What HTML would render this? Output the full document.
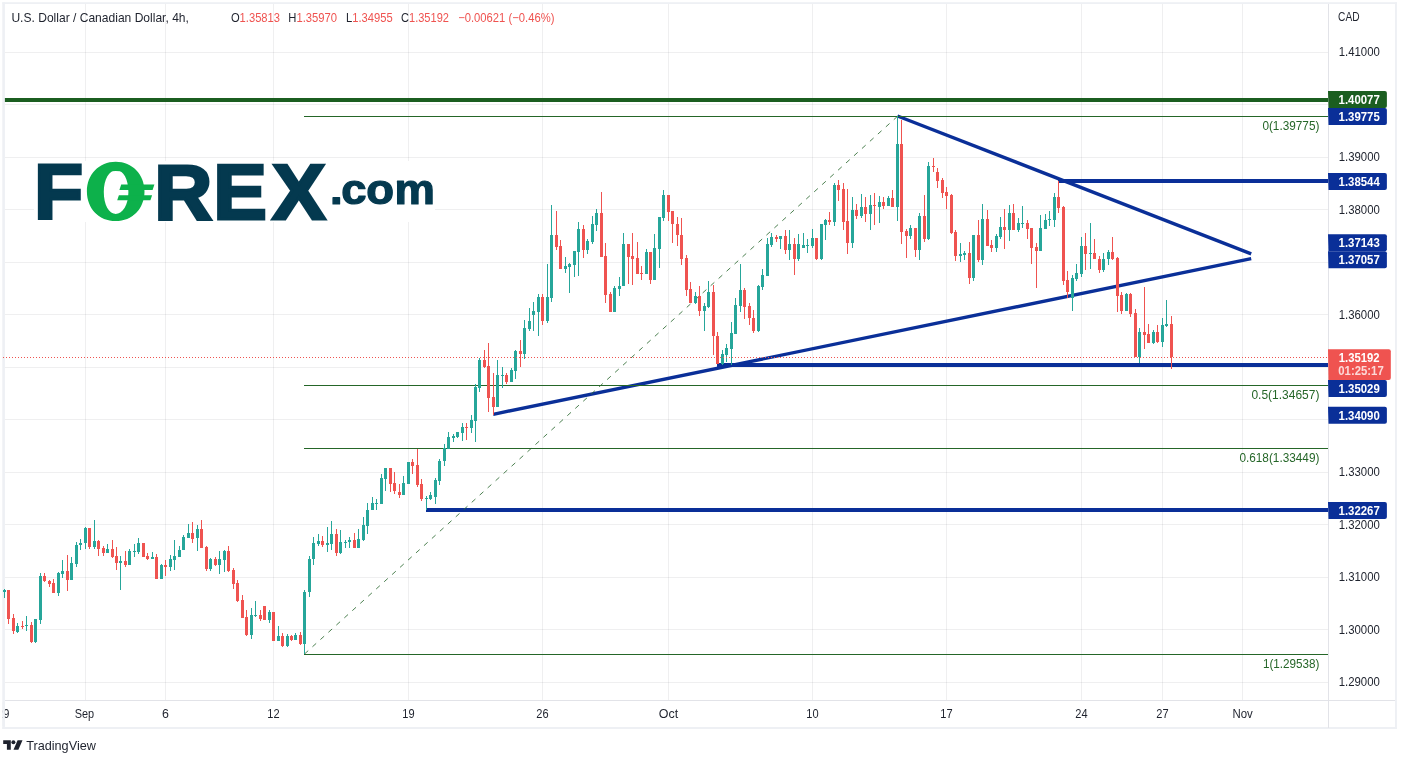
<!DOCTYPE html>
<html lang="en"><head><meta charset="utf-8"><title>USDCAD 4h chart</title>
<style>html,body{margin:0;padding:0;background:#fff;}body{width:1406px;height:763px;overflow:hidden;}svg{display:block;}text{font-family:"Liberation Sans", Arial, sans-serif;}</style></head><body>
<svg width="1406" height="763" viewBox="0 0 1406 763">
<rect x="0" y="0" width="1406" height="763" fill="#ffffff"/>
<g shape-rendering="crispEdges" fill="#2a2e39" fill-opacity="0.075">
<rect x="85" y="4" width="1" height="696"/>
<rect x="165" y="4" width="1" height="696"/>
<rect x="273" y="4" width="1" height="696"/>
<rect x="408" y="4" width="1" height="696"/>
<rect x="542" y="4" width="1" height="696"/>
<rect x="668" y="4" width="1" height="696"/>
<rect x="812" y="4" width="1" height="696"/>
<rect x="946" y="4" width="1" height="696"/>
<rect x="1081" y="4" width="1" height="696"/>
<rect x="1162" y="4" width="1" height="696"/>
<rect x="1242" y="4" width="1" height="696"/>
<rect x="5" y="52" width="1323" height="1"/>
<rect x="5" y="104" width="1323" height="1"/>
<rect x="5" y="157" width="1323" height="1"/>
<rect x="5" y="209" width="1323" height="1"/>
<rect x="5" y="262" width="1323" height="1"/>
<rect x="5" y="314" width="1323" height="1"/>
<rect x="5" y="367" width="1323" height="1"/>
<rect x="5" y="419" width="1323" height="1"/>
<rect x="5" y="472" width="1323" height="1"/>
<rect x="5" y="524" width="1323" height="1"/>
<rect x="5" y="577" width="1323" height="1"/>
<rect x="5" y="629" width="1323" height="1"/>
<rect x="5" y="682" width="1323" height="1"/>
</g>
<rect x="34" y="161" width="401" height="61" fill="#ffffff"/>
<g transform="translate(0,218.90) scale(1.030,1)">
<text x="32.97 82.07 149.74 207.08 263.98" y="0" font-weight="700" font-size="78.1px" fill="#04394f" stroke="#04394f" stroke-width="3.0" vector-effect="non-scaling-stroke">F<tspan font-weight="400" fill="#0db14b" stroke="none">O</tspan>REX</text>
</g>
<path fill="#0db14b" fill-rule="evenodd" d="M115.7 161.8c16.6 0 28.8 12.6 28.8 29.7s-12.2 29.6-28.8 29.6s-28.8-12.5-28.8-29.6s12.200-29.7 28.8-29.7z M116.4 170c-7.2 0-12.6 9.400-12.6 22s5.000 22 12 22s12.600-9.400 12.600-22s-5.000-22-12-22z"/>
<path fill="#0db14b" d="M121.200 184.600h33.200l-1.800 5.300h-33.200z M118.900 195.300h33.200l-1.700 4.900h-33.200z"/>
<g transform="translate(0,204.30) scale(1.090,1)">
<text x="302.79 313.08 335.91 362.04" y="0" font-weight="700" font-size="41.7px" fill="#04394f" stroke="#04394f" stroke-width="1.3" stroke-linejoin="round" vector-effect="non-scaling-stroke">.com</text>
</g>
<rect x="3" y="98" width="1325" height="4" fill="#1b5e20" shape-rendering="crispEdges"/>
<g stroke="#0a2f98" stroke-width="3.4" stroke-linecap="butt">
<line x1="897.5" y1="116" x2="1251.2" y2="253.8"/>
<line x1="493.2" y1="414.3" x2="1251.2" y2="258.7"/>
</g>
<g fill="#0a2f98" shape-rendering="crispEdges">
<rect x="1058" y="179" width="270" height="4"/>
<rect x="717" y="363" width="611" height="4"/>
<rect x="426" y="508" width="902" height="4"/>
</g>
<g shape-rendering="crispEdges" fill="#256628">
<rect x="304" y="116" width="1024" height="1"/>
<rect x="304" y="385" width="1024" height="1"/>
<rect x="304" y="448" width="1024" height="1"/>
<rect x="304" y="654" width="1024" height="1"/>
</g>
<line x1="304.5" y1="654" x2="897.5" y2="116.3" stroke="#2e6b32" stroke-opacity="0.85" stroke-width="1" stroke-dasharray="5 5.75"/>
<g fill="#eef0f4"><rect x="2.3" y="2.2" width="1394.6" height="1.8"/><rect x="2.3" y="727" width="1394.6" height="2"/><rect x="2.3" y="2.2" width="2.6" height="726.8"/><rect x="1395" y="2.2" width="1.9" height="726.8"/></g>
<g shape-rendering="crispEdges">
<rect x="4" y="589" width="1" height="9" fill="#26a69a"/>
<rect x="3" y="590" width="3" height="2" fill="#26a69a"/>
<rect x="8" y="590" width="1" height="34" fill="#ef5350"/>
<rect x="7" y="590" width="3" height="29" fill="#ef5350"/>
<rect x="13" y="614" width="1" height="20" fill="#ef5350"/>
<rect x="12" y="618" width="3" height="13" fill="#ef5350"/>
<rect x="17" y="623" width="1" height="10" fill="#26a69a"/>
<rect x="16" y="626" width="3" height="6" fill="#26a69a"/>
<rect x="22" y="621" width="1" height="8" fill="#ef5350"/>
<rect x="21" y="626" width="3" height="1" fill="#ef5350"/>
<rect x="26" y="616" width="1" height="15" fill="#26a69a"/>
<rect x="25" y="625" width="3" height="1" fill="#26a69a"/>
<rect x="31" y="622" width="1" height="21" fill="#ef5350"/>
<rect x="30" y="625" width="3" height="17" fill="#ef5350"/>
<rect x="35" y="619" width="1" height="24" fill="#26a69a"/>
<rect x="34" y="619" width="3" height="23" fill="#26a69a"/>
<rect x="40" y="573" width="1" height="51" fill="#26a69a"/>
<rect x="39" y="576" width="3" height="44" fill="#26a69a"/>
<rect x="44" y="573" width="1" height="9" fill="#ef5350"/>
<rect x="43" y="576" width="3" height="5" fill="#ef5350"/>
<rect x="49" y="580" width="1" height="7" fill="#ef5350"/>
<rect x="48" y="581" width="3" height="3" fill="#ef5350"/>
<rect x="53" y="579" width="1" height="14" fill="#ef5350"/>
<rect x="52" y="583" width="3" height="10" fill="#ef5350"/>
<rect x="58" y="572" width="1" height="24" fill="#26a69a"/>
<rect x="57" y="573" width="3" height="20" fill="#26a69a"/>
<rect x="62" y="560" width="1" height="18" fill="#26a69a"/>
<rect x="61" y="571" width="3" height="3" fill="#26a69a"/>
<rect x="67" y="555" width="1" height="36" fill="#ef5350"/>
<rect x="66" y="571" width="3" height="9" fill="#ef5350"/>
<rect x="71" y="557" width="1" height="23" fill="#26a69a"/>
<rect x="70" y="563" width="3" height="17" fill="#26a69a"/>
<rect x="76" y="542" width="1" height="25" fill="#26a69a"/>
<rect x="75" y="545" width="3" height="19" fill="#26a69a"/>
<rect x="80" y="539" width="1" height="11" fill="#26a69a"/>
<rect x="79" y="543" width="3" height="2" fill="#26a69a"/>
<rect x="85" y="527" width="1" height="22" fill="#26a69a"/>
<rect x="84" y="528" width="3" height="15" fill="#26a69a"/>
<rect x="89" y="528" width="1" height="21" fill="#ef5350"/>
<rect x="88" y="528" width="3" height="19" fill="#ef5350"/>
<rect x="94" y="520" width="1" height="29" fill="#26a69a"/>
<rect x="93" y="541" width="3" height="6" fill="#26a69a"/>
<rect x="98" y="540" width="1" height="16" fill="#ef5350"/>
<rect x="97" y="541" width="3" height="8" fill="#ef5350"/>
<rect x="103" y="546" width="1" height="10" fill="#ef5350"/>
<rect x="102" y="548" width="3" height="5" fill="#ef5350"/>
<rect x="107" y="544" width="1" height="9" fill="#26a69a"/>
<rect x="106" y="549" width="3" height="4" fill="#26a69a"/>
<rect x="112" y="540" width="1" height="18" fill="#ef5350"/>
<rect x="111" y="549" width="3" height="8" fill="#ef5350"/>
<rect x="116" y="547" width="1" height="23" fill="#ef5350"/>
<rect x="115" y="556" width="3" height="7" fill="#ef5350"/>
<rect x="120" y="556" width="1" height="34" fill="#26a69a"/>
<rect x="119" y="561" width="3" height="2" fill="#26a69a"/>
<rect x="125" y="551" width="1" height="16" fill="#ef5350"/>
<rect x="124" y="561" width="3" height="4" fill="#ef5350"/>
<rect x="129" y="549" width="1" height="16" fill="#26a69a"/>
<rect x="128" y="551" width="3" height="14" fill="#26a69a"/>
<rect x="134" y="544" width="1" height="13" fill="#26a69a"/>
<rect x="133" y="551" width="3" height="1" fill="#26a69a"/>
<rect x="138" y="538" width="1" height="16" fill="#26a69a"/>
<rect x="137" y="543" width="3" height="9" fill="#26a69a"/>
<rect x="143" y="543" width="1" height="14" fill="#ef5350"/>
<rect x="142" y="543" width="3" height="14" fill="#ef5350"/>
<rect x="147" y="553" width="1" height="7" fill="#ef5350"/>
<rect x="146" y="556" width="3" height="3" fill="#ef5350"/>
<rect x="152" y="552" width="1" height="7" fill="#26a69a"/>
<rect x="151" y="557" width="3" height="2" fill="#26a69a"/>
<rect x="156" y="554" width="1" height="25" fill="#ef5350"/>
<rect x="155" y="557" width="3" height="22" fill="#ef5350"/>
<rect x="161" y="564" width="1" height="15" fill="#26a69a"/>
<rect x="160" y="565" width="3" height="14" fill="#26a69a"/>
<rect x="165" y="560" width="1" height="16" fill="#ef5350"/>
<rect x="164" y="565" width="3" height="2" fill="#ef5350"/>
<rect x="170" y="555" width="1" height="16" fill="#26a69a"/>
<rect x="169" y="559" width="3" height="8" fill="#26a69a"/>
<rect x="174" y="540" width="1" height="30" fill="#26a69a"/>
<rect x="173" y="556" width="3" height="4" fill="#26a69a"/>
<rect x="179" y="546" width="1" height="11" fill="#26a69a"/>
<rect x="178" y="550" width="3" height="7" fill="#26a69a"/>
<rect x="183" y="535" width="1" height="15" fill="#26a69a"/>
<rect x="182" y="537" width="3" height="13" fill="#26a69a"/>
<rect x="188" y="524" width="1" height="14" fill="#26a69a"/>
<rect x="187" y="533" width="3" height="5" fill="#26a69a"/>
<rect x="192" y="522" width="1" height="21" fill="#ef5350"/>
<rect x="191" y="533" width="3" height="6" fill="#ef5350"/>
<rect x="197" y="525" width="1" height="26" fill="#26a69a"/>
<rect x="196" y="529" width="3" height="9" fill="#26a69a"/>
<rect x="201" y="520" width="1" height="28" fill="#ef5350"/>
<rect x="200" y="529" width="3" height="19" fill="#ef5350"/>
<rect x="206" y="546" width="1" height="25" fill="#ef5350"/>
<rect x="205" y="547" width="3" height="22" fill="#ef5350"/>
<rect x="210" y="558" width="1" height="13" fill="#26a69a"/>
<rect x="209" y="559" width="3" height="10" fill="#26a69a"/>
<rect x="215" y="557" width="1" height="9" fill="#ef5350"/>
<rect x="214" y="559" width="3" height="6" fill="#ef5350"/>
<rect x="219" y="551" width="1" height="23" fill="#26a69a"/>
<rect x="218" y="559" width="3" height="6" fill="#26a69a"/>
<rect x="224" y="550" width="1" height="22" fill="#26a69a"/>
<rect x="223" y="551" width="3" height="9" fill="#26a69a"/>
<rect x="228" y="546" width="1" height="26" fill="#ef5350"/>
<rect x="227" y="551" width="3" height="20" fill="#ef5350"/>
<rect x="233" y="568" width="1" height="21" fill="#ef5350"/>
<rect x="232" y="570" width="3" height="14" fill="#ef5350"/>
<rect x="237" y="580" width="1" height="22" fill="#ef5350"/>
<rect x="236" y="583" width="3" height="18" fill="#ef5350"/>
<rect x="242" y="595" width="1" height="23" fill="#ef5350"/>
<rect x="241" y="600" width="3" height="18" fill="#ef5350"/>
<rect x="246" y="610" width="1" height="26" fill="#ef5350"/>
<rect x="245" y="617" width="3" height="18" fill="#ef5350"/>
<rect x="251" y="608" width="1" height="31" fill="#26a69a"/>
<rect x="250" y="615" width="3" height="20" fill="#26a69a"/>
<rect x="255" y="601" width="1" height="16" fill="#26a69a"/>
<rect x="254" y="615" width="3" height="1" fill="#26a69a"/>
<rect x="260" y="610" width="1" height="11" fill="#ef5350"/>
<rect x="259" y="615" width="3" height="4" fill="#ef5350"/>
<rect x="264" y="606" width="1" height="14" fill="#ef5350"/>
<rect x="263" y="606" width="3" height="14" fill="#ef5350"/>
<rect x="269" y="610" width="1" height="13" fill="#26a69a"/>
<rect x="268" y="612" width="3" height="8" fill="#26a69a"/>
<rect x="273" y="612" width="1" height="29" fill="#ef5350"/>
<rect x="272" y="612" width="3" height="29" fill="#ef5350"/>
<rect x="278" y="626" width="1" height="15" fill="#26a69a"/>
<rect x="277" y="636" width="3" height="5" fill="#26a69a"/>
<rect x="282" y="633" width="1" height="14" fill="#ef5350"/>
<rect x="281" y="636" width="3" height="10" fill="#ef5350"/>
<rect x="287" y="634" width="1" height="13" fill="#26a69a"/>
<rect x="286" y="636" width="3" height="10" fill="#26a69a"/>
<rect x="291" y="635" width="1" height="6" fill="#ef5350"/>
<rect x="290" y="636" width="3" height="4" fill="#ef5350"/>
<rect x="295" y="633" width="1" height="7" fill="#26a69a"/>
<rect x="294" y="635" width="3" height="5" fill="#26a69a"/>
<rect x="300" y="632" width="1" height="13" fill="#ef5350"/>
<rect x="299" y="635" width="3" height="9" fill="#ef5350"/>
<rect x="304" y="590" width="1" height="64" fill="#26a69a"/>
<rect x="303" y="592" width="3" height="52" fill="#26a69a"/>
<rect x="309" y="556" width="1" height="41" fill="#26a69a"/>
<rect x="308" y="559" width="3" height="33" fill="#26a69a"/>
<rect x="313" y="537" width="1" height="28" fill="#26a69a"/>
<rect x="312" y="543" width="3" height="16" fill="#26a69a"/>
<rect x="318" y="534" width="1" height="12" fill="#26a69a"/>
<rect x="317" y="541" width="3" height="3" fill="#26a69a"/>
<rect x="322" y="536" width="1" height="11" fill="#ef5350"/>
<rect x="321" y="541" width="3" height="4" fill="#ef5350"/>
<rect x="327" y="527" width="1" height="25" fill="#26a69a"/>
<rect x="326" y="543" width="3" height="2" fill="#26a69a"/>
<rect x="331" y="521" width="1" height="29" fill="#26a69a"/>
<rect x="330" y="534" width="3" height="10" fill="#26a69a"/>
<rect x="336" y="529" width="1" height="27" fill="#ef5350"/>
<rect x="335" y="534" width="3" height="19" fill="#ef5350"/>
<rect x="340" y="530" width="1" height="24" fill="#26a69a"/>
<rect x="339" y="542" width="3" height="11" fill="#26a69a"/>
<rect x="345" y="540" width="1" height="8" fill="#26a69a"/>
<rect x="344" y="542" width="3" height="1" fill="#26a69a"/>
<rect x="349" y="537" width="1" height="11" fill="#26a69a"/>
<rect x="348" y="540" width="3" height="2" fill="#26a69a"/>
<rect x="354" y="533" width="1" height="15" fill="#ef5350"/>
<rect x="353" y="540" width="3" height="8" fill="#ef5350"/>
<rect x="358" y="529" width="1" height="19" fill="#26a69a"/>
<rect x="357" y="539" width="3" height="9" fill="#26a69a"/>
<rect x="363" y="517" width="1" height="24" fill="#26a69a"/>
<rect x="362" y="525" width="3" height="15" fill="#26a69a"/>
<rect x="367" y="503" width="1" height="31" fill="#26a69a"/>
<rect x="366" y="510" width="3" height="16" fill="#26a69a"/>
<rect x="372" y="497" width="1" height="13" fill="#26a69a"/>
<rect x="371" y="503" width="3" height="7" fill="#26a69a"/>
<rect x="376" y="499" width="1" height="11" fill="#26a69a"/>
<rect x="375" y="503" width="3" height="1" fill="#26a69a"/>
<rect x="381" y="474" width="1" height="30" fill="#26a69a"/>
<rect x="380" y="478" width="3" height="26" fill="#26a69a"/>
<rect x="385" y="468" width="1" height="23" fill="#26a69a"/>
<rect x="384" y="468" width="3" height="11" fill="#26a69a"/>
<rect x="390" y="468" width="1" height="24" fill="#ef5350"/>
<rect x="389" y="468" width="3" height="16" fill="#ef5350"/>
<rect x="394" y="472" width="1" height="22" fill="#ef5350"/>
<rect x="393" y="483" width="3" height="8" fill="#ef5350"/>
<rect x="399" y="484" width="1" height="14" fill="#ef5350"/>
<rect x="398" y="492" width="3" height="3" fill="#ef5350"/>
<rect x="403" y="476" width="1" height="19" fill="#26a69a"/>
<rect x="402" y="483" width="3" height="12" fill="#26a69a"/>
<rect x="408" y="462" width="1" height="22" fill="#26a69a"/>
<rect x="407" y="462" width="3" height="22" fill="#26a69a"/>
<rect x="412" y="459" width="1" height="15" fill="#ef5350"/>
<rect x="411" y="462" width="3" height="4" fill="#ef5350"/>
<rect x="417" y="449" width="1" height="38" fill="#ef5350"/>
<rect x="416" y="465" width="3" height="20" fill="#ef5350"/>
<rect x="421" y="479" width="1" height="22" fill="#ef5350"/>
<rect x="420" y="484" width="3" height="15" fill="#ef5350"/>
<rect x="426" y="496" width="1" height="14" fill="#26a69a"/>
<rect x="425" y="498" width="3" height="1" fill="#26a69a"/>
<rect x="430" y="492" width="1" height="8" fill="#26a69a"/>
<rect x="429" y="495" width="3" height="4" fill="#26a69a"/>
<rect x="435" y="478" width="1" height="26" fill="#26a69a"/>
<rect x="434" y="480" width="3" height="17" fill="#26a69a"/>
<rect x="439" y="459" width="1" height="26" fill="#26a69a"/>
<rect x="438" y="461" width="3" height="20" fill="#26a69a"/>
<rect x="444" y="444" width="1" height="22" fill="#26a69a"/>
<rect x="443" y="448" width="3" height="13" fill="#26a69a"/>
<rect x="448" y="432" width="1" height="17" fill="#26a69a"/>
<rect x="447" y="437" width="3" height="12" fill="#26a69a"/>
<rect x="453" y="434" width="1" height="8" fill="#26a69a"/>
<rect x="452" y="436" width="3" height="2" fill="#26a69a"/>
<rect x="457" y="432" width="1" height="6" fill="#26a69a"/>
<rect x="456" y="432" width="3" height="5" fill="#26a69a"/>
<rect x="462" y="423" width="1" height="18" fill="#26a69a"/>
<rect x="461" y="427" width="3" height="6" fill="#26a69a"/>
<rect x="466" y="423" width="1" height="17" fill="#ef5350"/>
<rect x="465" y="427" width="3" height="1" fill="#ef5350"/>
<rect x="471" y="415" width="1" height="18" fill="#26a69a"/>
<rect x="470" y="420" width="3" height="8" fill="#26a69a"/>
<rect x="475" y="384" width="1" height="58" fill="#26a69a"/>
<rect x="474" y="387" width="3" height="34" fill="#26a69a"/>
<rect x="479" y="358" width="1" height="34" fill="#26a69a"/>
<rect x="478" y="360" width="3" height="28" fill="#26a69a"/>
<rect x="484" y="350" width="1" height="18" fill="#ef5350"/>
<rect x="483" y="360" width="3" height="7" fill="#ef5350"/>
<rect x="488" y="343" width="1" height="69" fill="#ef5350"/>
<rect x="487" y="366" width="3" height="32" fill="#ef5350"/>
<rect x="493" y="373" width="1" height="42" fill="#ef5350"/>
<rect x="492" y="397" width="3" height="10" fill="#ef5350"/>
<rect x="497" y="360" width="1" height="47" fill="#26a69a"/>
<rect x="496" y="375" width="3" height="32" fill="#26a69a"/>
<rect x="502" y="367" width="1" height="21" fill="#26a69a"/>
<rect x="501" y="375" width="3" height="1" fill="#26a69a"/>
<rect x="506" y="373" width="1" height="11" fill="#ef5350"/>
<rect x="505" y="375" width="3" height="7" fill="#ef5350"/>
<rect x="511" y="368" width="1" height="14" fill="#26a69a"/>
<rect x="510" y="370" width="3" height="12" fill="#26a69a"/>
<rect x="515" y="350" width="1" height="29" fill="#26a69a"/>
<rect x="514" y="351" width="3" height="20" fill="#26a69a"/>
<rect x="520" y="340" width="1" height="27" fill="#ef5350"/>
<rect x="519" y="351" width="3" height="3" fill="#ef5350"/>
<rect x="524" y="320" width="1" height="39" fill="#26a69a"/>
<rect x="523" y="328" width="3" height="26" fill="#26a69a"/>
<rect x="529" y="308" width="1" height="23" fill="#26a69a"/>
<rect x="528" y="321" width="3" height="8" fill="#26a69a"/>
<rect x="533" y="302" width="1" height="29" fill="#26a69a"/>
<rect x="532" y="311" width="3" height="4" fill="#26a69a"/>
<rect x="538" y="294" width="1" height="42" fill="#26a69a"/>
<rect x="537" y="297" width="3" height="15" fill="#26a69a"/>
<rect x="542" y="294" width="1" height="31" fill="#ef5350"/>
<rect x="541" y="297" width="3" height="24" fill="#ef5350"/>
<rect x="547" y="264" width="1" height="59" fill="#26a69a"/>
<rect x="546" y="297" width="3" height="24" fill="#26a69a"/>
<rect x="551" y="205" width="1" height="97" fill="#26a69a"/>
<rect x="550" y="235" width="3" height="63" fill="#26a69a"/>
<rect x="556" y="211" width="1" height="39" fill="#ef5350"/>
<rect x="555" y="235" width="3" height="12" fill="#ef5350"/>
<rect x="560" y="240" width="1" height="29" fill="#ef5350"/>
<rect x="559" y="246" width="3" height="23" fill="#ef5350"/>
<rect x="565" y="257" width="1" height="16" fill="#26a69a"/>
<rect x="564" y="266" width="3" height="3" fill="#26a69a"/>
<rect x="569" y="263" width="1" height="30" fill="#26a69a"/>
<rect x="568" y="264" width="3" height="3" fill="#26a69a"/>
<rect x="574" y="251" width="1" height="26" fill="#26a69a"/>
<rect x="573" y="251" width="3" height="14" fill="#26a69a"/>
<rect x="578" y="222" width="1" height="54" fill="#26a69a"/>
<rect x="577" y="229" width="3" height="23" fill="#26a69a"/>
<rect x="583" y="225" width="1" height="33" fill="#ef5350"/>
<rect x="582" y="229" width="3" height="21" fill="#ef5350"/>
<rect x="587" y="239" width="1" height="15" fill="#26a69a"/>
<rect x="586" y="241" width="3" height="9" fill="#26a69a"/>
<rect x="592" y="216" width="1" height="28" fill="#26a69a"/>
<rect x="591" y="224" width="3" height="18" fill="#26a69a"/>
<rect x="596" y="209" width="1" height="22" fill="#26a69a"/>
<rect x="595" y="213" width="3" height="12" fill="#26a69a"/>
<rect x="601" y="192" width="1" height="65" fill="#ef5350"/>
<rect x="600" y="213" width="3" height="44" fill="#ef5350"/>
<rect x="605" y="243" width="1" height="60" fill="#ef5350"/>
<rect x="604" y="256" width="3" height="39" fill="#ef5350"/>
<rect x="610" y="292" width="1" height="20" fill="#ef5350"/>
<rect x="609" y="294" width="3" height="18" fill="#ef5350"/>
<rect x="614" y="286" width="1" height="26" fill="#26a69a"/>
<rect x="613" y="288" width="3" height="24" fill="#26a69a"/>
<rect x="619" y="277" width="1" height="19" fill="#26a69a"/>
<rect x="618" y="286" width="3" height="3" fill="#26a69a"/>
<rect x="623" y="233" width="1" height="53" fill="#26a69a"/>
<rect x="622" y="244" width="3" height="42" fill="#26a69a"/>
<rect x="628" y="244" width="1" height="40" fill="#ef5350"/>
<rect x="627" y="244" width="3" height="13" fill="#ef5350"/>
<rect x="632" y="233" width="1" height="52" fill="#ef5350"/>
<rect x="631" y="256" width="3" height="3" fill="#ef5350"/>
<rect x="637" y="242" width="1" height="32" fill="#ef5350"/>
<rect x="636" y="258" width="3" height="16" fill="#ef5350"/>
<rect x="641" y="266" width="1" height="14" fill="#ef5350"/>
<rect x="640" y="273" width="3" height="1" fill="#ef5350"/>
<rect x="646" y="249" width="1" height="25" fill="#26a69a"/>
<rect x="645" y="252" width="3" height="22" fill="#26a69a"/>
<rect x="650" y="252" width="1" height="32" fill="#ef5350"/>
<rect x="649" y="252" width="3" height="28" fill="#ef5350"/>
<rect x="654" y="234" width="1" height="46" fill="#26a69a"/>
<rect x="653" y="248" width="3" height="32" fill="#26a69a"/>
<rect x="659" y="217" width="1" height="51" fill="#26a69a"/>
<rect x="658" y="217" width="3" height="32" fill="#26a69a"/>
<rect x="663" y="190" width="1" height="31" fill="#26a69a"/>
<rect x="662" y="195" width="3" height="23" fill="#26a69a"/>
<rect x="668" y="195" width="1" height="26" fill="#ef5350"/>
<rect x="667" y="195" width="3" height="17" fill="#ef5350"/>
<rect x="672" y="211" width="1" height="32" fill="#ef5350"/>
<rect x="671" y="211" width="3" height="13" fill="#ef5350"/>
<rect x="677" y="217" width="1" height="29" fill="#ef5350"/>
<rect x="676" y="224" width="3" height="11" fill="#ef5350"/>
<rect x="681" y="218" width="1" height="47" fill="#ef5350"/>
<rect x="680" y="235" width="3" height="24" fill="#ef5350"/>
<rect x="686" y="255" width="1" height="41" fill="#ef5350"/>
<rect x="685" y="258" width="3" height="32" fill="#ef5350"/>
<rect x="690" y="282" width="1" height="21" fill="#ef5350"/>
<rect x="689" y="289" width="3" height="14" fill="#ef5350"/>
<rect x="695" y="292" width="1" height="12" fill="#26a69a"/>
<rect x="694" y="296" width="3" height="7" fill="#26a69a"/>
<rect x="699" y="286" width="1" height="30" fill="#ef5350"/>
<rect x="698" y="296" width="3" height="15" fill="#ef5350"/>
<rect x="704" y="303" width="1" height="28" fill="#26a69a"/>
<rect x="703" y="306" width="3" height="5" fill="#26a69a"/>
<rect x="708" y="281" width="1" height="27" fill="#26a69a"/>
<rect x="707" y="292" width="3" height="15" fill="#26a69a"/>
<rect x="713" y="285" width="1" height="70" fill="#ef5350"/>
<rect x="712" y="292" width="3" height="44" fill="#ef5350"/>
<rect x="717" y="332" width="1" height="32" fill="#ef5350"/>
<rect x="716" y="336" width="3" height="28" fill="#ef5350"/>
<rect x="722" y="350" width="1" height="15" fill="#26a69a"/>
<rect x="721" y="354" width="3" height="10" fill="#26a69a"/>
<rect x="726" y="344" width="1" height="18" fill="#26a69a"/>
<rect x="725" y="348" width="3" height="7" fill="#26a69a"/>
<rect x="731" y="322" width="1" height="43" fill="#26a69a"/>
<rect x="730" y="333" width="3" height="16" fill="#26a69a"/>
<rect x="735" y="298" width="1" height="36" fill="#26a69a"/>
<rect x="734" y="305" width="3" height="29" fill="#26a69a"/>
<rect x="740" y="264" width="1" height="48" fill="#26a69a"/>
<rect x="739" y="290" width="3" height="16" fill="#26a69a"/>
<rect x="744" y="288" width="1" height="31" fill="#ef5350"/>
<rect x="743" y="290" width="3" height="17" fill="#ef5350"/>
<rect x="749" y="303" width="1" height="22" fill="#ef5350"/>
<rect x="748" y="306" width="3" height="12" fill="#ef5350"/>
<rect x="753" y="310" width="1" height="23" fill="#ef5350"/>
<rect x="752" y="318" width="3" height="13" fill="#ef5350"/>
<rect x="758" y="285" width="1" height="47" fill="#26a69a"/>
<rect x="757" y="286" width="3" height="45" fill="#26a69a"/>
<rect x="762" y="269" width="1" height="21" fill="#26a69a"/>
<rect x="761" y="275" width="3" height="12" fill="#26a69a"/>
<rect x="767" y="238" width="1" height="38" fill="#26a69a"/>
<rect x="766" y="244" width="3" height="32" fill="#26a69a"/>
<rect x="771" y="233" width="1" height="14" fill="#26a69a"/>
<rect x="770" y="237" width="3" height="8" fill="#26a69a"/>
<rect x="776" y="235" width="1" height="7" fill="#ef5350"/>
<rect x="775" y="237" width="3" height="2" fill="#ef5350"/>
<rect x="780" y="236" width="1" height="13" fill="#26a69a"/>
<rect x="779" y="236" width="3" height="3" fill="#26a69a"/>
<rect x="785" y="230" width="1" height="24" fill="#ef5350"/>
<rect x="784" y="236" width="3" height="14" fill="#ef5350"/>
<rect x="789" y="230" width="1" height="30" fill="#26a69a"/>
<rect x="788" y="244" width="3" height="6" fill="#26a69a"/>
<rect x="794" y="238" width="1" height="37" fill="#ef5350"/>
<rect x="793" y="244" width="3" height="15" fill="#ef5350"/>
<rect x="798" y="234" width="1" height="27" fill="#26a69a"/>
<rect x="797" y="244" width="3" height="15" fill="#26a69a"/>
<rect x="803" y="233" width="1" height="15" fill="#26a69a"/>
<rect x="802" y="245" width="3" height="3" fill="#26a69a"/>
<rect x="807" y="239" width="1" height="14" fill="#26a69a"/>
<rect x="806" y="245" width="3" height="1" fill="#26a69a"/>
<rect x="812" y="229" width="1" height="19" fill="#26a69a"/>
<rect x="811" y="238" width="3" height="8" fill="#26a69a"/>
<rect x="816" y="238" width="1" height="22" fill="#ef5350"/>
<rect x="815" y="238" width="3" height="21" fill="#ef5350"/>
<rect x="821" y="224" width="1" height="36" fill="#26a69a"/>
<rect x="820" y="224" width="3" height="35" fill="#26a69a"/>
<rect x="825" y="219" width="1" height="21" fill="#26a69a"/>
<rect x="824" y="220" width="3" height="5" fill="#26a69a"/>
<rect x="829" y="212" width="1" height="13" fill="#ef5350"/>
<rect x="828" y="220" width="3" height="2" fill="#ef5350"/>
<rect x="834" y="183" width="1" height="43" fill="#26a69a"/>
<rect x="833" y="185" width="3" height="37" fill="#26a69a"/>
<rect x="838" y="180" width="1" height="21" fill="#ef5350"/>
<rect x="837" y="185" width="3" height="5" fill="#ef5350"/>
<rect x="843" y="183" width="1" height="47" fill="#ef5350"/>
<rect x="842" y="189" width="3" height="33" fill="#ef5350"/>
<rect x="847" y="189" width="1" height="65" fill="#ef5350"/>
<rect x="846" y="221" width="3" height="22" fill="#ef5350"/>
<rect x="852" y="197" width="1" height="51" fill="#26a69a"/>
<rect x="851" y="210" width="3" height="33" fill="#26a69a"/>
<rect x="856" y="204" width="1" height="15" fill="#ef5350"/>
<rect x="855" y="210" width="3" height="6" fill="#ef5350"/>
<rect x="861" y="194" width="1" height="24" fill="#26a69a"/>
<rect x="860" y="207" width="3" height="9" fill="#26a69a"/>
<rect x="865" y="197" width="1" height="25" fill="#ef5350"/>
<rect x="864" y="207" width="3" height="7" fill="#ef5350"/>
<rect x="870" y="195" width="1" height="35" fill="#26a69a"/>
<rect x="869" y="205" width="3" height="9" fill="#26a69a"/>
<rect x="874" y="193" width="1" height="32" fill="#ef5350"/>
<rect x="873" y="205" width="3" height="1" fill="#ef5350"/>
<rect x="879" y="196" width="1" height="27" fill="#26a69a"/>
<rect x="878" y="202" width="3" height="5" fill="#26a69a"/>
<rect x="883" y="197" width="1" height="12" fill="#ef5350"/>
<rect x="882" y="202" width="3" height="4" fill="#ef5350"/>
<rect x="888" y="196" width="1" height="10" fill="#26a69a"/>
<rect x="887" y="198" width="3" height="8" fill="#26a69a"/>
<rect x="892" y="190" width="1" height="17" fill="#ef5350"/>
<rect x="891" y="198" width="3" height="9" fill="#ef5350"/>
<rect x="897" y="116" width="1" height="105" fill="#26a69a"/>
<rect x="896" y="144" width="3" height="63" fill="#26a69a"/>
<rect x="901" y="120" width="1" height="124" fill="#ef5350"/>
<rect x="900" y="144" width="3" height="88" fill="#ef5350"/>
<rect x="906" y="229" width="1" height="29" fill="#ef5350"/>
<rect x="905" y="231" width="3" height="5" fill="#ef5350"/>
<rect x="910" y="225" width="1" height="14" fill="#26a69a"/>
<rect x="909" y="228" width="3" height="8" fill="#26a69a"/>
<rect x="915" y="228" width="1" height="29" fill="#ef5350"/>
<rect x="914" y="228" width="3" height="22" fill="#ef5350"/>
<rect x="919" y="213" width="1" height="47" fill="#26a69a"/>
<rect x="918" y="216" width="3" height="34" fill="#26a69a"/>
<rect x="924" y="195" width="1" height="47" fill="#ef5350"/>
<rect x="923" y="216" width="3" height="23" fill="#ef5350"/>
<rect x="928" y="162" width="1" height="78" fill="#26a69a"/>
<rect x="927" y="166" width="3" height="73" fill="#26a69a"/>
<rect x="933" y="158" width="1" height="14" fill="#ef5350"/>
<rect x="932" y="166" width="3" height="1" fill="#ef5350"/>
<rect x="937" y="168" width="1" height="20" fill="#ef5350"/>
<rect x="936" y="172" width="3" height="9" fill="#ef5350"/>
<rect x="942" y="178" width="1" height="20" fill="#ef5350"/>
<rect x="941" y="180" width="3" height="13" fill="#ef5350"/>
<rect x="946" y="187" width="1" height="22" fill="#ef5350"/>
<rect x="945" y="192" width="3" height="4" fill="#ef5350"/>
<rect x="951" y="194" width="1" height="40" fill="#ef5350"/>
<rect x="950" y="195" width="3" height="38" fill="#ef5350"/>
<rect x="955" y="230" width="1" height="31" fill="#ef5350"/>
<rect x="954" y="232" width="3" height="24" fill="#ef5350"/>
<rect x="960" y="243" width="1" height="19" fill="#26a69a"/>
<rect x="959" y="254" width="3" height="2" fill="#26a69a"/>
<rect x="964" y="251" width="1" height="9" fill="#26a69a"/>
<rect x="963" y="253" width="3" height="2" fill="#26a69a"/>
<rect x="969" y="242" width="1" height="42" fill="#ef5350"/>
<rect x="968" y="253" width="3" height="25" fill="#ef5350"/>
<rect x="973" y="235" width="1" height="46" fill="#26a69a"/>
<rect x="972" y="235" width="3" height="43" fill="#26a69a"/>
<rect x="978" y="220" width="1" height="42" fill="#ef5350"/>
<rect x="977" y="235" width="3" height="25" fill="#ef5350"/>
<rect x="982" y="204" width="1" height="61" fill="#26a69a"/>
<rect x="981" y="219" width="3" height="41" fill="#26a69a"/>
<rect x="987" y="210" width="1" height="36" fill="#ef5350"/>
<rect x="986" y="219" width="3" height="27" fill="#ef5350"/>
<rect x="991" y="240" width="1" height="12" fill="#ef5350"/>
<rect x="990" y="245" width="3" height="3" fill="#ef5350"/>
<rect x="996" y="234" width="1" height="18" fill="#26a69a"/>
<rect x="995" y="236" width="3" height="12" fill="#26a69a"/>
<rect x="1000" y="217" width="1" height="22" fill="#26a69a"/>
<rect x="999" y="227" width="3" height="10" fill="#26a69a"/>
<rect x="1004" y="209" width="1" height="40" fill="#ef5350"/>
<rect x="1003" y="227" width="3" height="3" fill="#ef5350"/>
<rect x="1009" y="205" width="1" height="36" fill="#26a69a"/>
<rect x="1008" y="213" width="3" height="17" fill="#26a69a"/>
<rect x="1013" y="204" width="1" height="26" fill="#ef5350"/>
<rect x="1012" y="213" width="3" height="17" fill="#ef5350"/>
<rect x="1018" y="218" width="1" height="14" fill="#26a69a"/>
<rect x="1017" y="223" width="3" height="7" fill="#26a69a"/>
<rect x="1022" y="206" width="1" height="22" fill="#26a69a"/>
<rect x="1021" y="223" width="3" height="1" fill="#26a69a"/>
<rect x="1027" y="220" width="1" height="19" fill="#ef5350"/>
<rect x="1026" y="223" width="3" height="6" fill="#ef5350"/>
<rect x="1031" y="228" width="1" height="36" fill="#ef5350"/>
<rect x="1030" y="228" width="3" height="20" fill="#ef5350"/>
<rect x="1036" y="243" width="1" height="45" fill="#ef5350"/>
<rect x="1035" y="247" width="3" height="4" fill="#ef5350"/>
<rect x="1040" y="215" width="1" height="36" fill="#26a69a"/>
<rect x="1039" y="228" width="3" height="23" fill="#26a69a"/>
<rect x="1045" y="214" width="1" height="15" fill="#26a69a"/>
<rect x="1044" y="220" width="3" height="9" fill="#26a69a"/>
<rect x="1049" y="211" width="1" height="15" fill="#26a69a"/>
<rect x="1048" y="219" width="3" height="1" fill="#26a69a"/>
<rect x="1054" y="193" width="1" height="34" fill="#26a69a"/>
<rect x="1053" y="197" width="3" height="23" fill="#26a69a"/>
<rect x="1058" y="181" width="1" height="32" fill="#ef5350"/>
<rect x="1057" y="197" width="3" height="11" fill="#ef5350"/>
<rect x="1063" y="206" width="1" height="79" fill="#ef5350"/>
<rect x="1062" y="207" width="3" height="74" fill="#ef5350"/>
<rect x="1067" y="271" width="1" height="27" fill="#ef5350"/>
<rect x="1066" y="280" width="3" height="12" fill="#ef5350"/>
<rect x="1072" y="275" width="1" height="36" fill="#26a69a"/>
<rect x="1071" y="278" width="3" height="20" fill="#26a69a"/>
<rect x="1076" y="264" width="1" height="17" fill="#26a69a"/>
<rect x="1075" y="273" width="3" height="6" fill="#26a69a"/>
<rect x="1081" y="237" width="1" height="40" fill="#26a69a"/>
<rect x="1080" y="246" width="3" height="28" fill="#26a69a"/>
<rect x="1085" y="233" width="1" height="37" fill="#ef5350"/>
<rect x="1084" y="246" width="3" height="8" fill="#ef5350"/>
<rect x="1090" y="223" width="1" height="46" fill="#26a69a"/>
<rect x="1089" y="253" width="3" height="1" fill="#26a69a"/>
<rect x="1094" y="239" width="1" height="20" fill="#ef5350"/>
<rect x="1093" y="253" width="3" height="6" fill="#ef5350"/>
<rect x="1099" y="256" width="1" height="17" fill="#ef5350"/>
<rect x="1098" y="259" width="3" height="11" fill="#ef5350"/>
<rect x="1103" y="253" width="1" height="19" fill="#26a69a"/>
<rect x="1102" y="259" width="3" height="11" fill="#26a69a"/>
<rect x="1108" y="250" width="1" height="15" fill="#26a69a"/>
<rect x="1107" y="252" width="3" height="7" fill="#26a69a"/>
<rect x="1112" y="237" width="1" height="23" fill="#ef5350"/>
<rect x="1111" y="252" width="3" height="7" fill="#ef5350"/>
<rect x="1117" y="257" width="1" height="55" fill="#ef5350"/>
<rect x="1116" y="258" width="3" height="38" fill="#ef5350"/>
<rect x="1121" y="292" width="1" height="22" fill="#ef5350"/>
<rect x="1120" y="295" width="3" height="16" fill="#ef5350"/>
<rect x="1126" y="293" width="1" height="18" fill="#26a69a"/>
<rect x="1125" y="294" width="3" height="17" fill="#26a69a"/>
<rect x="1130" y="293" width="1" height="24" fill="#ef5350"/>
<rect x="1129" y="294" width="3" height="20" fill="#ef5350"/>
<rect x="1135" y="309" width="1" height="48" fill="#ef5350"/>
<rect x="1134" y="313" width="3" height="44" fill="#ef5350"/>
<rect x="1139" y="328" width="1" height="35" fill="#26a69a"/>
<rect x="1138" y="332" width="3" height="25" fill="#26a69a"/>
<rect x="1144" y="287" width="1" height="62" fill="#ef5350"/>
<rect x="1143" y="332" width="3" height="3" fill="#ef5350"/>
<rect x="1148" y="324" width="1" height="19" fill="#ef5350"/>
<rect x="1147" y="334" width="3" height="9" fill="#ef5350"/>
<rect x="1153" y="330" width="1" height="14" fill="#26a69a"/>
<rect x="1152" y="332" width="3" height="11" fill="#26a69a"/>
<rect x="1157" y="325" width="1" height="18" fill="#ef5350"/>
<rect x="1156" y="332" width="3" height="10" fill="#ef5350"/>
<rect x="1162" y="318" width="1" height="29" fill="#26a69a"/>
<rect x="1161" y="325" width="3" height="17" fill="#26a69a"/>
<rect x="1166" y="300" width="1" height="27" fill="#26a69a"/>
<rect x="1165" y="324" width="3" height="2" fill="#26a69a"/>
<rect x="1171" y="316" width="1" height="53" fill="#ef5350"/>
<rect x="1170" y="324" width="3" height="33" fill="#ef5350"/>
</g>
<line x1="3" y1="357.5" x2="1328" y2="357.5" stroke="#ef5350" stroke-width="1" stroke-dasharray="1 2" shape-rendering="crispEdges"/>
<g font-size="12.8px" fill="#256628" text-anchor="end">
<text x="1319.4" y="130.0" textLength="57.0" lengthAdjust="spacingAndGlyphs">0(1.39775)</text>
<text x="1319.4" y="399.0" textLength="68.0" lengthAdjust="spacingAndGlyphs">0.5(1.34657)</text>
<text x="1319.4" y="462.0" textLength="80.0" lengthAdjust="spacingAndGlyphs">0.618(1.33449)</text>
<text x="1319.4" y="668.0" textLength="56.5" lengthAdjust="spacingAndGlyphs">1(1.29538)</text>
</g>
<g shape-rendering="crispEdges" fill="#e2e3e8">
<rect x="1328" y="4" width="1" height="724"/>
<rect x="5" y="700" width="1390" height="1"/>
</g>
<g font-size="12.8px" fill="#1e222d">
<text x="1338.1" y="20.5" textLength="21.5" lengthAdjust="spacingAndGlyphs">CAD</text>
<text x="1338.7" y="56.0" textLength="41.2" lengthAdjust="spacingAndGlyphs">1.41000</text>
<text x="1338.7" y="161.0" textLength="41.2" lengthAdjust="spacingAndGlyphs">1.39000</text>
<text x="1338.7" y="213.5" textLength="41.2" lengthAdjust="spacingAndGlyphs">1.38000</text>
<text x="1338.7" y="318.5" textLength="41.2" lengthAdjust="spacingAndGlyphs">1.36000</text>
<text x="1338.7" y="476.0" textLength="41.2" lengthAdjust="spacingAndGlyphs">1.33000</text>
<text x="1338.7" y="528.5" textLength="41.2" lengthAdjust="spacingAndGlyphs">1.32000</text>
<text x="1338.7" y="581.0" textLength="41.2" lengthAdjust="spacingAndGlyphs">1.31000</text>
<text x="1338.7" y="633.5" textLength="41.2" lengthAdjust="spacingAndGlyphs">1.30000</text>
<text x="1338.7" y="686.0" textLength="41.2" lengthAdjust="spacingAndGlyphs">1.29000</text>
</g>
<path d="M1328 91.0h56.9a2 2 0 0 1 2 2v13a2 2 0 0 1 -2 2h-56.4z" fill="#1b5e20"/>
<text x="1338.6" y="103.9" textLength="41.2" lengthAdjust="spacingAndGlyphs" font-size="12.6px" font-weight="700" fill="#ffffff">1.40077</text>
<path d="M1328 107.9h56.9a2 2 0 0 1 2 2v13a2 2 0 0 1 -2 2h-56.4z" fill="#0a2f98"/>
<text x="1338.6" y="120.8" textLength="41.2" lengthAdjust="spacingAndGlyphs" font-size="12.6px" font-weight="700" fill="#ffffff">1.39775</text>
<path d="M1328 173.0h56.9a2 2 0 0 1 2 2v13a2 2 0 0 1 -2 2h-56.4z" fill="#0a2f98"/>
<text x="1338.6" y="185.9" textLength="41.2" lengthAdjust="spacingAndGlyphs" font-size="12.6px" font-weight="700" fill="#ffffff">1.38544</text>
<path d="M1328 234.3h56.9a2 2 0 0 1 2 2v13a2 2 0 0 1 -2 2h-56.4z" fill="#0a2f98"/>
<text x="1338.6" y="247.2" textLength="41.2" lengthAdjust="spacingAndGlyphs" font-size="12.6px" font-weight="700" fill="#ffffff">1.37143</text>
<path d="M1328 251.2h56.9a2 2 0 0 1 2 2v13a2 2 0 0 1 -2 2h-56.4z" fill="#0a2f98"/>
<text x="1338.6" y="264.1" textLength="41.2" lengthAdjust="spacingAndGlyphs" font-size="12.6px" font-weight="700" fill="#ffffff">1.37057</text>
<path d="M1328 349.2h60.800a2 2 0 0 1 2 2v26.700a2 2 0 0 1 -2 2h-60.300z" fill="#ef5350"/>
<text x="1338.8" y="361.8" textLength="40.8" lengthAdjust="spacingAndGlyphs" font-size="12px" font-weight="700" fill="#ffffff">1.35192</text>
<text x="1338.3" y="375.4" textLength="45.4" lengthAdjust="spacingAndGlyphs" font-size="12px" font-weight="700" fill="#ffffff" fill-opacity="0.78">01:25:17</text>
<path d="M1328 379.9h56.9a2 2 0 0 1 2 2v13a2 2 0 0 1 -2 2h-56.4z" fill="#0a2f98"/>
<text x="1338.6" y="392.8" textLength="41.2" lengthAdjust="spacingAndGlyphs" font-size="12.6px" font-weight="700" fill="#ffffff">1.35029</text>
<path d="M1328 406.7h56.9a2 2 0 0 1 2 2v13a2 2 0 0 1 -2 2h-56.4z" fill="#0a2f98"/>
<text x="1338.6" y="419.6" textLength="41.2" lengthAdjust="spacingAndGlyphs" font-size="12.6px" font-weight="700" fill="#ffffff">1.34090</text>
<path d="M1328 502.0h56.9a2 2 0 0 1 2 2v13a2 2 0 0 1 -2 2h-56.4z" fill="#0a2f98"/>
<text x="1338.6" y="514.9" textLength="41.2" lengthAdjust="spacingAndGlyphs" font-size="12.6px" font-weight="700" fill="#ffffff">1.32267</text>
<g font-size="12.4px" fill="#1e222d" text-anchor="middle">
<text x="3.2" y="717.8" textLength="12.3" lengthAdjust="spacingAndGlyphs">29</text>
<text x="84.4" y="717.8" textLength="19.4" lengthAdjust="spacingAndGlyphs">Sep</text>
<text x="165.4" y="717.8">6</text>
<text x="273.5" y="717.8" textLength="12.3" lengthAdjust="spacingAndGlyphs">12</text>
<text x="408.5" y="717.8" textLength="12.3" lengthAdjust="spacingAndGlyphs">19</text>
<text x="542.5" y="717.8" textLength="12.3" lengthAdjust="spacingAndGlyphs">26</text>
<text x="668.5" y="717.8" textLength="19.4" lengthAdjust="spacingAndGlyphs">Oct</text>
<text x="812.5" y="717.8" textLength="12.3" lengthAdjust="spacingAndGlyphs">10</text>
<text x="946.5" y="717.8" textLength="12.3" lengthAdjust="spacingAndGlyphs">17</text>
<text x="1081.5" y="717.8" textLength="12.3" lengthAdjust="spacingAndGlyphs">24</text>
<text x="1162.5" y="717.8" textLength="12.3" lengthAdjust="spacingAndGlyphs">27</text>
<text x="1242.6" y="717.8" textLength="20.3" lengthAdjust="spacingAndGlyphs">Nov</text>
</g>
<rect x="0" y="702" width="2.3" height="24" fill="#ffffff"/>
<rect x="2.3" y="702" width="2.6" height="24" fill="#eef0f4"/>
<g font-size="12.4px" fill="#1e222d">
<text x="11.4" y="21.7" textLength="177.5" lengthAdjust="spacingAndGlyphs">U.S. Dollar / Canadian Dollar, 4h,</text>
<text x="230.9" y="21.7" textLength="49.1" lengthAdjust="spacingAndGlyphs">O<tspan fill="#ef5350">1.35813</tspan></text>
<text x="288.3" y="21.7" textLength="48.8" lengthAdjust="spacingAndGlyphs">H<tspan fill="#ef5350">1.35970</tspan></text>
<text x="346.0" y="21.7" textLength="46.7" lengthAdjust="spacingAndGlyphs">L<tspan fill="#ef5350">1.34955</tspan></text>
<text x="401.0" y="21.7" textLength="48.0" lengthAdjust="spacingAndGlyphs">C<tspan fill="#ef5350">1.35192</tspan></text>
<text x="458.2" y="21.7" textLength="96.2" lengthAdjust="spacingAndGlyphs" fill="#ef5350">−0.00621 (−0.46%)</text>
</g>
<g fill="#1e222d">
<path d="M3.2 740.2h7.6v9.600h-3.900v-5.800h-3.700z"/>
<circle cx="13.4" cy="742.2" r="2"/>
<path d="M17.6 740.2h4.900l-4.100 9.600h-4.900z"/>
<text x="26.2" y="749.9" textLength="69.7" lengthAdjust="spacingAndGlyphs" font-size="13px" fill="#1e222d">TradingView</text>
</g>
</svg></body></html>
